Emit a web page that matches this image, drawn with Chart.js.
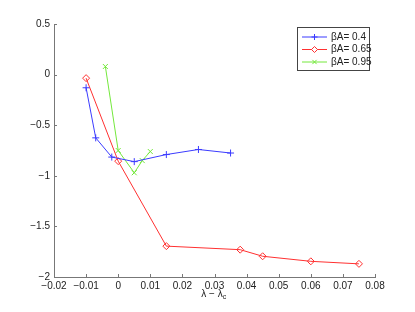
<!DOCTYPE html>
<html lang="en">
<head>
<meta charset="UTF-8">
<title>Chart</title>
<script src="https://cdn.jsdelivr.net/npm/chart.js"></script>
<style>
    body { margin: 0; padding: 0; background: white; }
    #wrap { width: 415px; height: 312px; }
</style>
</head>
<body>
<div id="wrap"><canvas id="myChart" width="415" height="312"></canvas></div>
<script>
    // data
    const xBlue = [-0.01, -0.007, -0.002, 0.005, 0.015, 0.025, 0.035];
    const yBlue = [-0.13, -0.625, -0.815, -0.86, -0.79, -0.74, -0.775];
    const xRed = [-0.01, 0, 0.015, 0.038, 0.045, 0.06, 0.075];
    const yRed = [-0.035, -0.855, -1.695, -1.73, -1.795, -1.845, -1.87];
    const xGreen = [-0.004, 0, 0.005, 0.0075, 0.01];
    const yGreen = [0.08, -0.75, -0.97, -0.85, -0.76];
    const seriesLabels = ['βA= 0.4', 'βA= 0.65', 'βA= 0.95'];
    const xTicks = [-0.02, -0.01, 0, 0.01, 0.02, 0.03, 0.04, 0.05, 0.06, 0.07, 0.08];
    const yTicks = [0.5, 0, -0.5, -1, -1.5, -2];

    const colors = ['#3b3bff', '#ff3030', '#74e83c'];
    const markers = ['cross', 'rectRot', 'crossRot'];
    const font = { family: 'Liberation Sans, Arial, sans-serif', size: 10 };

    function pts(xs, ys) {
        return xs.map((x, i) => ({ x: x, y: ys[i] }));
    }
    function fmt(v) {
        return String(Number(v.toFixed(3))).replace('-', '\u2212');
    }

    const sets = [pts(xBlue, yBlue), pts(xRed, yRed), pts(xGreen, yGreen)];

    // inward ticks, legend box and axis title
    const extras = {
        id: 'extras',
        afterDraw(chart) {
            const c = chart.ctx;
            const xs = chart.scales.x, ys = chart.scales.y;
            const a = chart.chartArea;
            c.save();
            c.strokeStyle = '#777';
            c.lineWidth = 1;
            c.beginPath();
            xTicks.forEach(t => {
                const px = Math.round(xs.getPixelForValue(t)) + 0.5;
                c.moveTo(px, a.bottom);
                c.lineTo(px, a.bottom - 3);
            });
            yTicks.forEach(t => {
                const py = Math.round(ys.getPixelForValue(t)) + 0.5;
                c.moveTo(a.left, py);
                c.lineTo(a.left + 3, py);
            });
            c.stroke();

            // x title with subscript
            c.fillStyle = '#222';
            c.font = '10px ' + font.family;
            c.textBaseline = 'middle';
            const main = 'λ \u2212 λ';
            const w = c.measureText(main).width;
            const cx = xs.getPixelForValue(0.03);
            const tx = cx - (w + 5) / 2;
            c.textAlign = 'left';
            c.fillText(main, tx, 294);
            c.font = '7px ' + font.family;
            c.fillText('c', tx + w, 297);

            // legend
            const lx = 297, ly = 27, lw = 72, lh = 43;
            c.fillStyle = 'white';
            c.fillRect(lx, ly, lw, lh);
            c.strokeStyle = '#444';
            c.strokeRect(lx + 0.5, ly + 0.5, lw, lh);
            const rows = [37, 49.5, 62];
            seriesLabels.forEach((lab, i) => {
                const y = rows[i];
                c.strokeStyle = colors[i];
                c.beginPath();
                c.moveTo(302, y);
                c.lineTo(327, y);
                c.stroke();
                c.fillStyle = 'white';
                Chart.helpers.drawPoint(c, { pointStyle: markers[i], radius: 3, borderWidth: 1 }, 314.5, y);
                c.fillStyle = '#222';
                c.font = '10px ' + font.family;
                c.fillText(lab, 331, y);
            });
            c.restore();
        }
    };

    const ctx = document.getElementById('myChart').getContext('2d');
    const myChart = new Chart(ctx, {
        type: 'scatter',
        data: {
            datasets: sets.map((d, i) => ({
                label: seriesLabels[i],
                data: d,
                showLine: true,
                borderColor: colors[i],
                backgroundColor: 'transparent',
                borderWidth: 1,
                pointStyle: markers[i],
                pointRadius: 3.5,
                pointBorderColor: colors[i],
                pointBackgroundColor: 'transparent',
                pointBorderWidth: 1
            }))
        },
        options: {
            responsive: false,
            animation: false,
            layout: { padding: { top: 24, right: 40, left: 0, bottom: 0 } },
            plugins: {
                legend: { display: false },
                tooltip: { enabled: false }
            },
            scales: {
                x: {
                    type: 'linear',
                    min: -0.02,
                    max: 0.08,
                    afterBuildTicks: s => { s.ticks = xTicks.map(v => ({ value: v })); },
                    afterFit: s => { s.height = 35; },
                    grid: { display: false, drawTicks: false },
                    border: { display: true, color: '#777' },
                    ticks: {
                        color: '#222',
                        font: font,
                        padding: 3,
                        maxRotation: 0,
                        autoSkip: false,
                        callback: v => fmt(v)
                    }
                },
                y: {
                    type: 'linear',
                    min: -2,
                    max: 0.5,
                    afterBuildTicks: s => { s.ticks = yTicks.map(v => ({ value: v })); },
                    afterFit: s => { s.width = 54; },
                    grid: { display: false, drawTicks: false },
                    border: { display: true, color: '#777' },
                    ticks: {
                        color: '#222',
                        font: font,
                        padding: 4,
                        autoSkip: false,
                        callback: v => fmt(v)
                    }
                }
            }
        },
        plugins: [extras]
    });
</script>
</body>
</html>
